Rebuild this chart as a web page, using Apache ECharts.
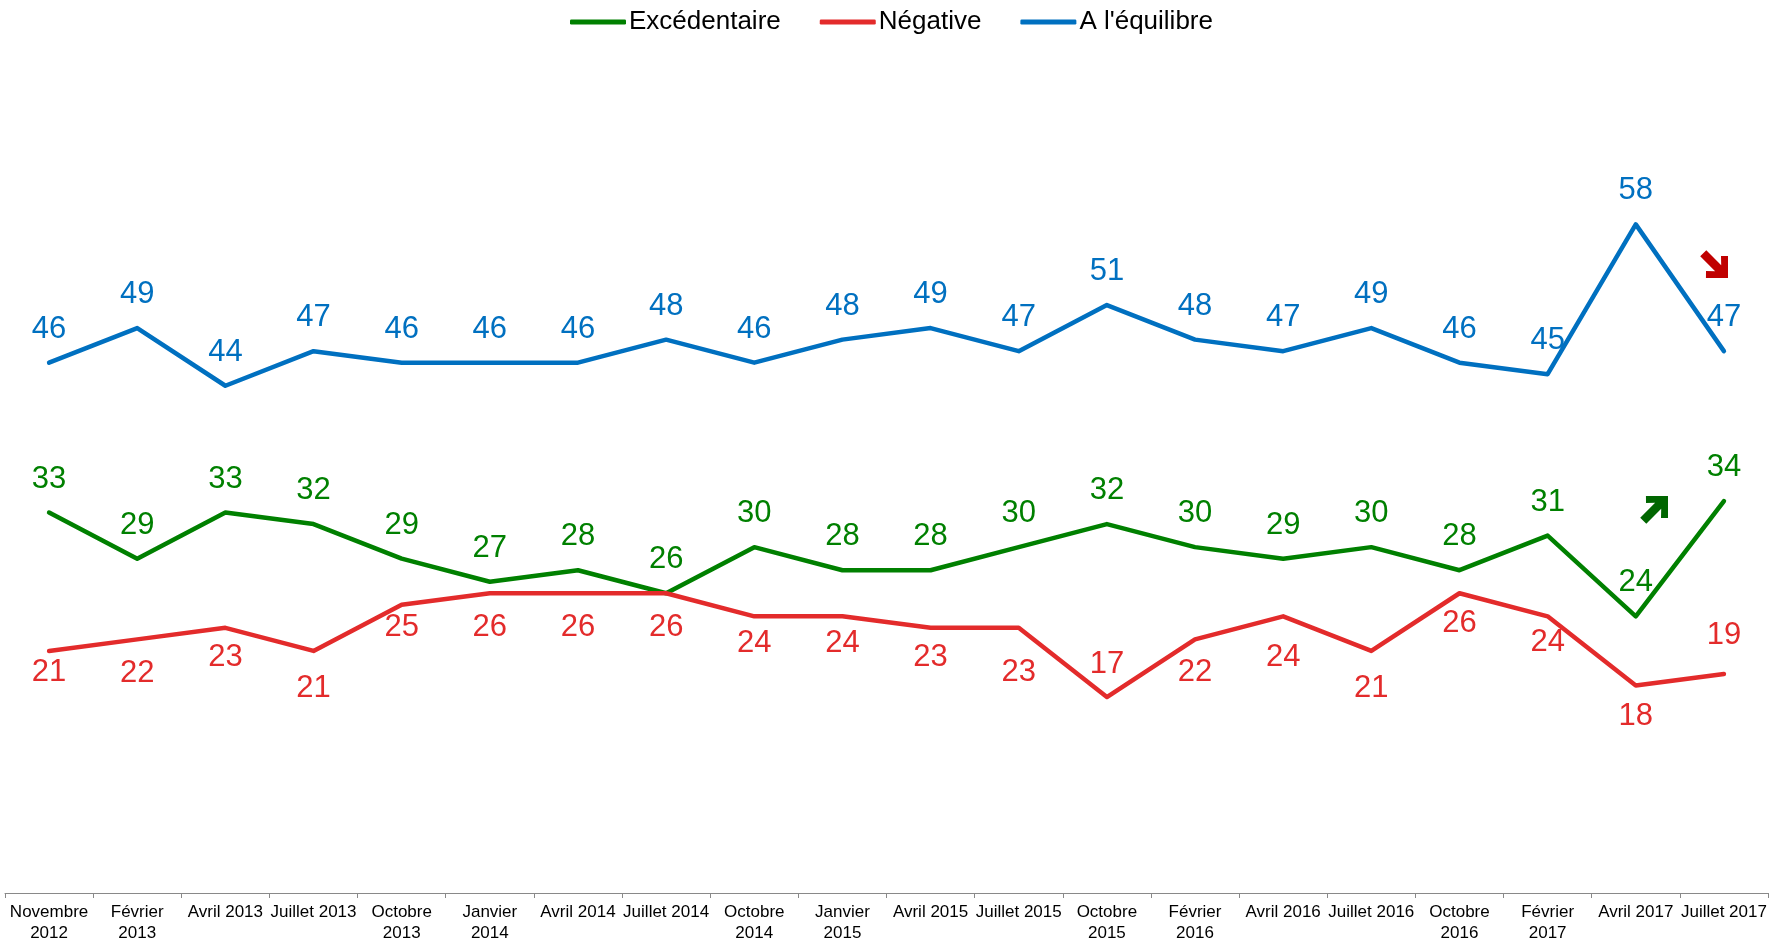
<!DOCTYPE html>
<html>
<head>
<meta charset="utf-8">
<script src="https://cdn.jsdelivr.net/npm/echarts@6/dist/echarts.min.js"></script>
<style>html,body{margin:0;padding:0;background:#fff}#c{width:1771px;height:944px}</style>
</head>
<body>
<div id="c"></div>
<script>
const categories = ["Novembre\n2012","Février\n2013","Avril 2013","Juillet 2013","Octobre\n2013","Janvier\n2014","Avril 2014","Juillet 2014","Octobre\n2014","Janvier\n2015","Avril 2015","Juillet 2015","Octobre\n2015","Février\n2016","Avril 2016","Juillet 2016","Octobre\n2016","Février\n2017","Avril 2017","Juillet 2017"];
const excedentaire = [33,29,33,32,29,27,28,26,30,28,28,30,32,30,29,30,28,31,24,34];
const negative = [21,22,23,21,25,26,26,26,24,24,23,23,17,22,24,21,26,24,18,19];
const equilibre = [46,49,44,47,46,46,46,48,46,48,49,47,51,48,47,49,46,45,58,47];

// label placement styling for the red series (separate from data)
const negLabelPos = ['bottom','bottom','bottom','bottom','bottom','bottom','bottom','bottom','bottom','bottom','bottom','bottom','top','bottom','bottom','bottom','bottom','bottom','bottom','top'];
const negLabelDist = [6,19,14,22,7,19,19,19,12,12,14,29,17,18,26,22,15,11,15,23];

const GREEN = '#008000', RED = '#E32B2B', BLUE = '#0070C0';
const FONT = 'Liberation Sans, Arial, sans-serif';

function lineSeries(name, data, color, labelOpt, perPoint) {
  return {
    name: name, type: 'line',
    data: perPoint ? data.map((v, i) => ({ value: v, label: perPoint(i) })) : data,
    symbol: 'circle', symbolSize: 0.01, showSymbol: true, showAllSymbol: true,
    lineStyle: { width: 4.5, color: color, cap: 'round', join: 'round' },
    itemStyle: { color: color },
    label: Object.assign({ show: true, color: color, fontSize: 31, fontFamily: FONT }, labelOpt),
    labelLayout: { hideOverlap: false },
    emphasis: { disabled: true },
    animation: false
  };
}

function arrow(cx, cy, rot, color) {
  return {
    type: 'polygon', x: cx, y: cy, rotation: rot, z: 100,
    shape: { points: [[0,0],[-15.6,-15.6],[-20.5,-10.6],[-13.9,-4.3],[-35,-4.3],[-35,4.3],[-13.9,4.3],[-20.5,10.6],[-15.6,15.6]] },
    style: { fill: color }
  };
}

const chart = echarts.init(document.getElementById('c'), null, { renderer: 'canvas' });
chart.setOption({
  backgroundColor: '#fff',
  animation: false,
  legend: {
    left: 570, top: 9, padding: 0,
    itemWidth: 56, itemHeight: 5, itemGap: 39, icon: 'roundRect',
    textStyle: { fontSize: 26, fontFamily: FONT, color: '#000', padding: [0,0,0,-2] },
    data: ['Excédentaire', 'Négative', "A l'équilibre"]
  },
  grid: { left: 5, right: 3, top: 86, bottom: 51, containLabel: false },
  xAxis: {
    type: 'category', data: categories, boundaryGap: true,
    axisLine: { lineStyle: { color: '#898989', width: 1 } },
    axisTick: { show: true, length: 5, lineStyle: { color: '#898989' } },
    axisLabel: { color: '#000', fontSize: 17, fontFamily: FONT, lineHeight: 21, margin: 9, interval: 0 }
  },
  yAxis: { type: 'value', min: 0, max: 70, show: false, splitLine: { show: false } },
  series: [
    lineSeries('Excédentaire', excedentaire, GREEN, { position: 'top', distance: 18 }),
    lineSeries('Négative', negative, RED, { position: 'bottom' }, i => ({ position: negLabelPos[i], distance: negLabelDist[i] })),
    lineSeries("A l'équilibre", equilibre, BLUE, { position: 'top', distance: 18 })
  ],
  graphic: [
    arrow(1728, 278, -Math.PI / 4, '#C00000'),
    arrow(1668, 496, Math.PI / 4, '#006600')
  ]
});
</script>
</body>
</html>
